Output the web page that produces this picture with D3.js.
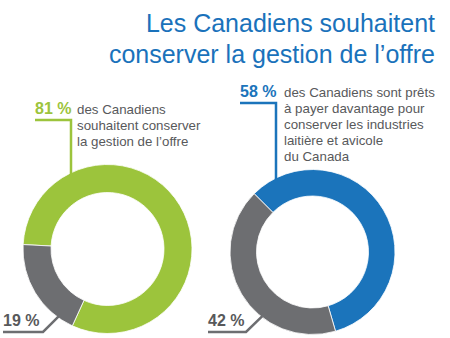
<!DOCTYPE html>
<html><head><meta charset="utf-8">
<script src="https://cdn.jsdelivr.net/npm/d3@7"></script>
<style>body{margin:0;background:#fff}svg{display:block}</style>
</head><body>
<svg id="c" width="450" height="338"></svg>
<script>
const titleLines = ["Les Canadiens souhaitent", "conserver la gestion de l’offre"];
const leftValues = [81, 19];
const rightValues = [58, 42];
const leftLabels = ["81 %", "19 %"];
const rightLabels = ["58 %", "42 %"];
const leftText = ["des Canadiens", "souhaitent conserver", "la gestion de l’offre"];
const rightText = ["des Canadiens sont prêts", "à payer davantage pour", "conserver les industries", "laitière et avicole", "du Canada"];

const GREEN = "#9cc43c", BLUE = "#1b74bb", GRAY = "#6d6e71", TEXT = "#58595b";
const svg = d3.select("#c");
const font = "'Liberation Sans', Arial, Helvetica, sans-serif";

// Title
svg.append("g").selectAll("text").data(titleLines).join("text")
  .attr("x", 435).attr("y", (d, i) => 32 + i * 31)
  .attr("text-anchor", "end").attr("font-family", font).attr("font-size", 25)
  .attr("fill", "#1a72bb").text(d => d);

const rad = a => a * Math.PI / 180;

function donut(cfg) {
  const g = svg.append("g").attr("transform", `translate(${cfg.cx},${cfg.cy})`);
  const pie = d3.pie().sort(null).startAngle(rad(cfg.start)).endAngle(rad(cfg.start + 360));
  const arc = d3.arc().innerRadius(cfg.r).outerRadius(cfg.R);
  const arcs = pie(cfg.values);
  g.selectAll("path").data(arcs).join("path")
    .attr("d", arc).attr("fill", (d, i) => cfg.colors[i])
    .attr("stroke", "#fff").attr("stroke-width", 0.8);

  // top callout
  const lx = cfg.topLineX, dx = lx - cfg.cx;
  const edgeY = cfg.cy - Math.sqrt(cfg.R * cfg.R - dx * dx) + 3;
  svg.append("polyline")
    .attr("points", `${cfg.topX},${cfg.topLineY} ${lx},${cfg.topLineY} ${lx},${edgeY}`)
    .attr("fill", "none").attr("stroke", cfg.colors[0]).attr("stroke-width", 2.5);
  svg.append("text").attr("x", cfg.topX).attr("y", cfg.topBase)
    .attr("font-family", font).attr("font-weight", "bold").attr("font-size", 16)
    .attr("fill", cfg.colors[0]).text(cfg.labels[0]);
  svg.append("g").selectAll("text").data(cfg.text).join("text")
    .attr("x", cfg.textX).attr("y", (d, i) => cfg.topBase + i * 16)
    .attr("font-family", font).attr("font-size", 13.3).attr("fill", TEXT).text(d => d);

  // bottom callout
  const a = rad(cfg.botAngle);
  const ex = cfg.cx + (cfg.R - 1) * Math.sin(a), ey = cfg.cy - (cfg.R - 1) * Math.cos(a);
  svg.append("polyline")
    .attr("points", `${cfg.botX},332 ${cfg.botKnee},332 ${ex},${ey}`)
    .attr("fill", "none").attr("stroke", GRAY).attr("stroke-width", 2.5);
  svg.append("text").attr("x", cfg.botX).attr("y", 326)
    .attr("font-family", font).attr("font-weight", "bold").attr("font-size", 16)
    .attr("fill", TEXT).text(cfg.labels[1]);
}

donut({cx: 107.5, cy: 249, R: 84.5, r: 56.5, start: -87, values: leftValues,
  colors: [GREEN, GRAY], labels: leftLabels, text: leftText,
  topX: 35, topLineX: 71, topLineY: 120, topBase: 114, textX: 77,
  botX: 3, botKnee: 43, botAngle: 216});

donut({cx: 312.5, cy: 252, R: 82.5, r: 56, start: -45, values: rightValues,
  colors: [BLUE, GRAY], labels: rightLabels, text: rightText,
  topX: 240, topLineX: 276, topLineY: 103, topBase: 97, textX: 284,
  botX: 208, botKnee: 246, botAngle: 218});
</script>
</body></html>
